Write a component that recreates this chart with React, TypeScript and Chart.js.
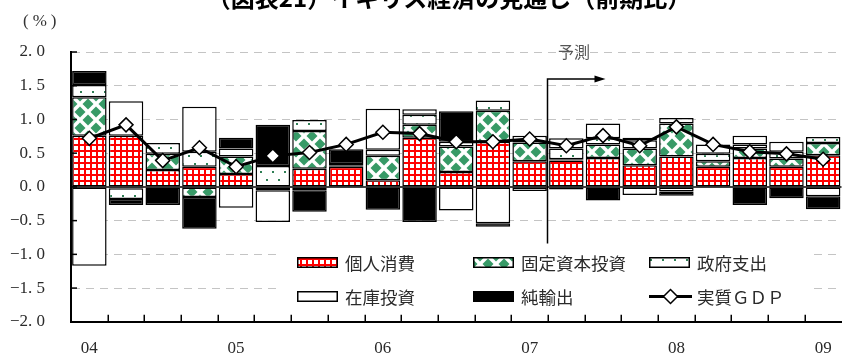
import { useEffect, useRef } from 'react';
import { Chart, registerables } from 'chart.js';

Chart.register(...registerables);

// Quarters 2004Q1 – 2009Q1; only the first quarter of each year is labelled
const categories = ['04', '', '', '', '05', '', '', '', '06', '', '', '', '07', '', '', '', '08', '', '', '', '09'];

// Contributions to quarter-on-quarter growth (percentage points)
const personalConsumption = [0.76, 0.76, 0.25, 0.30, 0.19, 0.00, 0.27, 0.30, 0.10, 0.73, 0.22, 0.67, 0.38, 0.39, 0.43, 0.32, 0.45, 0.30, 0.43, 0.30, 0.47];
const fixedInvestment = [0.57, -0.02, 0.24, -0.15, 0.26, -0.05, 0.56, 0.02, 0.36, 0.19, 0.38, 0.46, 0.28, 0.02, 0.20, 0.25, 0.49, 0.08, 0.14, 0.12, 0.18];
const governmentSpending = [0.18, -0.16, 0.16, 0.22, 0.12, 0.31, 0.16, 0.02, 0.09, 0.15, 0.07, 0.15, 0.10, 0.16, 0.09, 0.12, 0.08, 0.11, 0.06, 0.10, 0.09];
const inventoryInvestment = [-1.17, 0.51, 0.00, 0.67, -0.31, -0.47, -0.05, -0.01, 0.61, 0.08, -0.35, -0.54, -0.06, 0.15, 0.22, -0.12, -0.07, 0.14, 0.13, 0.15, -0.14];
const netExports = [0.21, -0.09, -0.27, -0.47, 0.16, 0.61, -0.32, 0.22, -0.34, -0.52, 0.45, -0.05, 0.00, -0.04, -0.20, 0.04, -0.06, 0.00, -0.27, -0.17, -0.19];
const realGdp = [0.72, 0.92, 0.39, 0.58, 0.30, 0.46, 0.51, 0.63, 0.81, 0.79, 0.67, 0.67, 0.71, 0.61, 0.76, 0.61, 0.89, 0.63, 0.52, 0.49, 0.41];

const seriesNames = ['個人消費', '固定資本投資', '政府支出', '在庫投資', '純輸出', '実質ＧＤＰ'];
const yMin = -2;
const yMax = 2;
const yStep = 0.5;
const forecastStartIndex = 13; // first forecast quarter (07Q2)

const titleText = '（図表21）イギリス経済の見通し（前期比）';
const unitText = '(%)';
const forecastText = '予測';

const CJK = "'Noto Sans CJK JP', sans-serif";
const SERIF = "'Liberation Serif', 'DejaVu Serif', serif";

function makeTile(w: number, h: number, draw: (g: CanvasRenderingContext2D) => void): CanvasPattern {
  const c = document.createElement('canvas');
  c.width = w;
  c.height = h;
  const g = c.getContext('2d')!;
  g.fillStyle = '#ffffff';
  g.fillRect(0, 0, w, h);
  draw(g);
  return g.createPattern(c, 'repeat')!;
}

function fmtTick(v: number): string {
  const s = Math.abs(v).toFixed(1).replace('.', '. ');
  return (v < 0 ? '−' : '') + s;
}

function drawDiamond(ctx: CanvasRenderingContext2D, x: number, y: number, r: number) {
  ctx.beginPath();
  ctx.moveTo(x, y - r);
  ctx.lineTo(x + r, y);
  ctx.lineTo(x, y + r);
  ctx.lineTo(x - r, y);
  ctx.closePath();
  ctx.fillStyle = '#ffffff';
  ctx.fill();
  ctx.lineWidth = 1.5;
  ctx.strokeStyle = '#000000';
  ctx.stroke();
}

export default function App() {
  const ref = useRef<HTMLCanvasElement>(null);

  useEffect(() => {
    const canvas = ref.current!;

    const gridPattern = makeTile(6, 6, (g) => {
      g.fillStyle = '#ff0000';
      g.fillRect(0, 0, 6, 2);
      g.fillRect(0, 0, 2, 6);
    });
    const diamondPattern = makeTile(16, 16, (g) => {
      g.fillStyle = '#379a67';
      const d = (cx: number, cy: number) => {
        const r = 5.5;
        g.beginPath();
        g.moveTo(cx, cy - r);
        g.lineTo(cx + r, cy);
        g.lineTo(cx, cy + r);
        g.lineTo(cx - r, cy);
        g.closePath();
        g.fill();
      };
      d(8, 8);
      d(0, 0);
      d(16, 0);
      d(0, 16);
      d(16, 16);
    });
    const dotPattern = makeTile(12, 16, (g) => {
      g.fillStyle = '#2f7f55';
      g.fillRect(2, 3, 2, 2);
      g.fillRect(8, 11, 2, 2);
    });

    const barCommon = {
      type: 'bar' as const,
      borderColor: '#000000',
      borderWidth: 1.5,
      borderSkipped: false as const,
      stack: 'contrib',
      order: 1,
      categoryPercentage: 1,
      barPercentage: 0.94,
    };

    const decorations = {
      id: 'decorations',
      beforeDraw(chart: any) {
        const { ctx } = chart;
        const x = chart.scales.x;
        const y = chart.scales.y;
        ctx.save();
        // title
        ctx.fillStyle = '#000000';
        ctx.font = `bold 24px ${CJK}`;
        ctx.textAlign = 'center';
        ctx.textBaseline = 'alphabetic';
        ctx.fillText(titleText, 449, 7);
        // unit
        ctx.fillStyle = '#333333';
        ctx.font = `17px ${SERIF}`;
        ctx.textAlign = 'left';
        ctx.textBaseline = 'middle';
        (ctx as any).letterSpacing = '4px';
        ctx.fillText(unitText, 23, 22);
        (ctx as any).letterSpacing = '0px';
        // forecast caption
        const bx = (x.getPixelForValue(forecastStartIndex - 1) + x.getPixelForValue(forecastStartIndex)) / 2;
        ctx.fillStyle = '#555555';
        ctx.font = `16px ${CJK}`;
        ctx.textAlign = 'center';
        ctx.fillText(forecastText, bx + 26, y.getPixelForValue(2));
        ctx.restore();
      },
      beforeDatasetsDraw(chart: any) {
        const { ctx, chartArea } = chart;
        const x = chart.scales.x;
        const y = chart.scales.y;
        ctx.save();
        // zero line
        const y0 = y.getPixelForValue(0);
        ctx.strokeStyle = '#000000';
        ctx.lineWidth = 1.5;
        ctx.beginPath();
        ctx.moveTo(chartArea.left, y0);
        ctx.lineTo(chartArea.right, y0);
        ctx.stroke();
        // forecast marker with arrow
        const bx = Math.round((x.getPixelForValue(forecastStartIndex - 1) + x.getPixelForValue(forecastStartIndex)) / 2) - 0.5;
        const yTop = y.getPixelForValue(1.6);
        const yBot = y.getPixelForValue(-0.84);
        ctx.lineWidth = 1.5;
        ctx.beginPath();
        ctx.moveTo(bx, yBot);
        ctx.lineTo(bx, yTop);
        ctx.lineTo(bx + 49, yTop);
        ctx.stroke();
        ctx.fillStyle = '#000000';
        ctx.beginPath();
        ctx.moveTo(bx + 58, yTop);
        ctx.lineTo(bx + 47, yTop - 3.5);
        ctx.lineTo(bx + 47, yTop + 3.5);
        ctx.closePath();
        ctx.fill();
        ctx.restore();
      },
      afterDatasetsDraw(chart: any) {
        const { ctx, chartArea } = chart;
        const x = chart.scales.x;
        const y = chart.scales.y;
        ctx.save();
        ctx.strokeStyle = '#000000';
        ctx.lineWidth = 1.5;
        // inward ticks on the value axis
        for (let v = yMin + yStep; v <= yMax + 1e-9; v += yStep) {
          const py = y.getPixelForValue(v);
          ctx.beginPath();
          ctx.moveTo(chartArea.left, py);
          ctx.lineTo(chartArea.left + 6, py);
          ctx.stroke();
        }
        // inward ticks on the category axis, at quarter boundaries
        const n = categories.length;
        const w = (chartArea.right - chartArea.left) / n;
        for (let i = 1; i < n; i++) {
          const px = Math.round(x.getPixelForValue(i) - w / 2) + 0.25;
          ctx.beginPath();
          ctx.moveTo(px, chartArea.bottom);
          ctx.lineTo(px, chartArea.bottom - 7);
          ctx.stroke();
        }

        // legend
        ctx.fillStyle = '#ffffff';
        ctx.fillRect(282, 244, 530, 66);
        const slots = [
          [297, 262.5],
          [473, 262.5],
          [649, 262.5],
          [297, 296.5],
          [473, 296.5],
          [649, 296.5],
        ];
        const datasets = chart.data.datasets;
        datasets.forEach((ds: any, i: number) => {
          const [lx, ly] = slots[i];
          if (ds.type === 'line') {
            ctx.strokeStyle = '#000000';
            ctx.lineWidth = 3;
            ctx.beginPath();
            ctx.moveTo(lx, ly);
            ctx.lineTo(lx + 43, ly);
            ctx.stroke();
            drawDiamond(ctx, lx + 21.5, ly, 7);
          } else {
            ctx.fillStyle = '#000000';
            ctx.fillRect(lx, ly - 5.5, 41, 11);
            ctx.fillStyle = ds.backgroundColor;
            ctx.fillRect(lx + 1.5, ly - 4, 38, 8);
          }
          ctx.fillStyle = '#2a2a2a';
          ctx.font = `17.5px ${CJK}`;
          ctx.textAlign = 'left';
          ctx.textBaseline = 'middle';
          ctx.fillText(ds.label, lx + 48, ly + 1);
        });
        ctx.restore();
      },
    };

    const chart = new Chart(canvas, {
      data: {
        labels: categories,
        datasets: [
          { ...barCommon, label: seriesNames[0], data: personalConsumption, backgroundColor: gridPattern },
          { ...barCommon, label: seriesNames[1], data: fixedInvestment, backgroundColor: diamondPattern },
          { ...barCommon, label: seriesNames[2], data: governmentSpending, backgroundColor: dotPattern },
          { ...barCommon, label: seriesNames[3], data: inventoryInvestment, backgroundColor: '#ffffff' },
          { ...barCommon, label: seriesNames[4], data: netExports, backgroundColor: '#000000' },
          {
            type: 'line',
            label: seriesNames[5],
            data: realGdp,
            stack: 'gdp',
            order: 0,
            borderColor: '#000000',
            borderWidth: 3,
            tension: 0,
            pointStyle: 'rectRot',
            pointRadius: 7,
            pointBackgroundColor: '#ffffff',
            pointBorderColor: '#000000',
            pointBorderWidth: 1.5,
          },
        ],
      } as any,
      options: {
        responsive: false,
        animation: false,
        devicePixelRatio: 1,
        events: [],
        layout: { padding: { left: 0, right: 0, top: 52, bottom: 0 } },
        plugins: {
          legend: { display: false },
          title: { display: false },
          tooltip: { enabled: false },
        },
        scales: {
          x: {
            stacked: true,
            offset: true,
            afterFit: (s: any) => {
              s.height = 36;
            },
            grid: { display: false, drawTicks: false },
            border: { display: true, color: '#000000', width: 2 },
            ticks: {
              autoSkip: false,
              maxRotation: 0,
              padding: 17,
              color: '#2a2a2a',
              font: { family: SERIF, size: 17 },
            },
          },
          y: {
            stacked: true,
            min: yMin,
            max: yMax,
            afterFit: (s: any) => {
              s.width = 71;
            },
            grid: {
              drawTicks: false,
              lineWidth: 1,
              color: (c: any) => {
                const v = c.tick ? c.tick.value : NaN;
                if (Math.abs(v) < 1e-9 || Math.abs(v - yMin) < 1e-9) return 'rgba(0,0,0,0)';
                return '#c4c4c4';
              },
            },
            border: { display: true, color: '#000000', width: 2, dash: [8, 6] },
            ticks: {
              stepSize: yStep,
              padding: 26,
              color: '#2a2a2a',
              font: { family: SERIF, size: 17 },
              callback: (v: any) => fmtTick(Number(v)),
            },
          },
        },
      } as any,
      plugins: [decorations],
    });

    return () => chart.destroy();
  }, []);

  return (
    <div style={{ position: 'absolute', left: 0, top: 0, width: 850, height: 358, background: '#ffffff' }}>
      <canvas ref={ref} width={850} height={358} style={{ display: 'block', width: 850, height: 358 }} />
    </div>
  );
}
